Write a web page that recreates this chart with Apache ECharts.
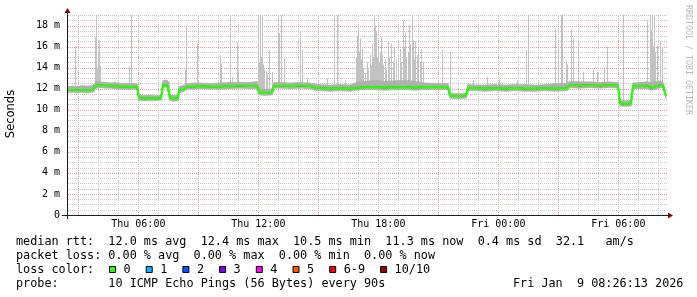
<!DOCTYPE html>
<html><head><meta charset="utf-8">
<script src="https://cdn.jsdelivr.net/npm/echarts@6/dist/echarts.min.js"></script>
<style>html,body{margin:0;padding:0;background:#fff}#c{width:697px;height:297px}</style>
</head><body><div id="c"></div>
<script>
// time in minutes since Thu 00:00
const START_MIN = 146, END_MIN = 1946;
const xTickTimes = [360, 720, 1080, 1440, 1800];
const xTickLabels = ['Thu 06:00', 'Thu 12:00', 'Thu 18:00', 'Fri 00:00', 'Fri 06:00'];
const yMax = 19;

const medianTimes = [146,161,176,191,206,221,227,233,245,260,275,290,305,320,335,347,356,362,380,395,410,428,434,446,452,455,467,479,482,494,509,530,545,575,605,635,665,695,716,722,740,761,767,785,815,845,875,890,905,935,965,995,1016,1040,1070,1100,1130,1160,1190,1220,1250,1289,1295,1310,1325,1343,1349,1370,1400,1430,1460,1490,1520,1550,1580,1610,1646,1655,1685,1715,1745,1775,1799,1805,1820,1838,1844,1865,1886,1898,1910,1925,1934,1943];
const medianValues = [11.85,11.9,11.85,11.9,11.85,11.9,11.95,12.3,12.35,12.3,12.3,12.25,12.2,12.2,12.15,12.2,12.2,11.1,11.05,11.1,11.05,11.1,12.35,12.4,12.3,11.1,11.05,11.1,11.85,11.95,12.2,12.2,12.25,12.2,12.2,12.25,12.3,12.25,12.3,11.65,11.6,11.65,12.3,12.3,12.25,12.3,12.25,12.1,12.05,12.0,12.05,12.0,12.1,12.15,12.15,12.1,12.15,12.15,12.1,12.15,12.15,12.15,11.35,11.3,11.3,11.35,12.05,12.05,12.0,12.05,12.0,12.05,12.0,12.0,12.05,12.0,12.05,12.35,12.3,12.35,12.3,12.35,12.3,10.6,10.55,10.6,12.25,12.25,12.3,12.1,12.2,12.35,12.3,11.3];
const smokeLow = [11.6,11.65,11.6,11.65,11.6,11.65,11.7,12.05,12.1,12.05,12.05,12.0,11.95,11.95,11.9,11.95,11.95,10.85,10.85,10.85,10.85,10.9,12.1,12.15,12.05,10.85,10.8,10.85,11.6,11.7,11.95,11.95,12.0,11.95,11.95,12.0,12.05,12.0,12.0,11.4,11.35,11.4,12.05,12.05,12.0,12.05,12.0,11.85,11.8,11.75,11.8,11.75,11.85,11.9,11.9,11.85,11.9,11.9,11.85,11.9,11.9,11.9,11.1,11.05,11.05,11.1,11.8,11.8,11.75,11.8,11.75,11.8,11.75,11.75,11.8,11.75,11.8,12.1,12.05,12.1,12.05,12.1,12.05,10.35,10.3,10.35,12.0,12.0,12.0,11.85,11.9,12.1,12.05,11.05];
const smokeHigh = [12.2,12.25,12.2,12.3,12.25,12.3,12.4,12.7,12.65,12.6,12.55,12.6,12.5,12.5,12.5,12.5,12.45,11.4,11.35,11.4,11.35,11.4,12.75,12.8,12.6,11.4,11.35,11.4,12.2,12.3,12.5,12.55,12.55,12.5,12.55,12.6,12.6,12.6,12.7,12.0,11.95,12.0,12.6,12.6,12.55,12.6,12.55,12.45,12.4,12.35,12.4,12.35,12.6,12.7,12.8,12.7,12.75,12.8,12.7,12.55,12.5,12.5,11.6,11.55,11.55,11.6,12.4,12.35,12.35,12.4,12.35,12.4,12.4,12.35,12.4,12.5,12.5,12.7,12.65,12.65,12.6,12.65,12.6,10.9,10.85,10.9,12.55,12.6,12.65,12.6,12.7,12.7,12.6,11.6];

// [time, low ms, high ms] of individual outlier pings (smoke spikes)
const spikes = [
[169,12.0,16.0],
[230,12.0,16.9],[233,12.1,19],[236,12.2,14.0],[239,12.2,15.5],[242,12.2,16.6],[245,12.2,14.2],
[333,12.1,14.1],[338,12.1,19],
[437,12.3,12.9],[443,12.3,12.8],
[500,12.1,13.8],[503,12.1,18.0],
[536,12.1,16.3],
[605,12.1,15.2],[609,12.1,14.4],
[635,12.1,19],[641,12.1,13.1],
[657,12.1,16.4],[659,12.1,13.7],
[718,12.1,19],
[722,11.5,14.5],[725,11.5,19],[728,11.5,15.0],[731,11.5,19],[734,11.5,14.3],[737,11.5,13.8],[743,11.5,13.7],[746,11.5,13.5],[752,11.5,15.7],[760,11.5,13.6],
[780,12.1,19],[782,12.1,17.3],[787,12.1,19],[797,12.1,14.9],
[845,12.1,17.4],[850,12.1,15.7],[865,12.1,13.0],
[925,11.9,13.0],[948,11.9,19],[957,11.9,19],[980,11.9,12.8],
[1013,12.0,15.0],[1016,12.0,17.0],[1019,12.0,17.3],[1022,12.0,15.5],[1025,12.0,16.8],[1028,12.0,14.8],[1031,12.0,15.8],[1034,12.0,14.0],[1040,12.0,13.5],[1046,12.0,14.5],[1049,12.0,13.8],[1055,12.0,15.2],[1058,12.0,14.2],[1061,12.0,16.2],[1064,12.0,15.0],[1067,12.0,19],[1070,12.0,18.0],[1073,12.0,17.4],[1076,12.0,15.0],[1079,12.0,15.8],[1082,12.0,14.5],[1085,12.0,15.5],[1088,12.0,16.9],[1091,12.0,15.2],[1094,12.0,14.3],[1100,12.0,14.8],[1103,12.0,13.8],[1109,12.0,16.5],[1112,12.0,15.0],[1118,12.0,16.3],[1124,12.0,14.5],[1127,12.0,16.0],[1133,12.0,14.8],[1139,12.0,15.2],[1145,12.0,15.8],[1148,12.0,14.5],[1153,12.0,18.5],[1157,12.0,16.0],[1160,12.0,17.3],[1163,12.0,15.0],[1169,12.0,15.5],[1172,12.0,18.0],[1175,12.0,16.2],[1180,12.0,19],[1183,12.0,16.6],[1187,12.0,14.8],[1190,12.0,16.5],[1196,12.0,15.2],[1199,12.0,16.0],[1205,12.0,14.5],[1208,12.0,15.8],[1214,12.0,14.5],
[1272,12.0,15.7],[1295,11.3,15.4],
[1365,11.9,12.8],[1405,11.9,13.1],[1443,11.9,12.8],[1495,11.9,12.8],
[1523,11.9,15.7],[1528,11.9,19],
[1610,11.9,17.7],[1618,11.9,16.1],[1628,11.9,19],[1632,11.9,19],[1642,11.9,14.7],[1647,11.9,14.3],
[1658,12.2,17.6],[1663,12.2,16.8],[1678,12.2,16.5],[1693,12.2,13.6],[1723,12.2,13.9],[1735,12.2,13.6],[1757,12.2,13.9],[1765,12.2,16.0],
[1813,10.5,19],
[1885,12.1,18.5],[1895,12.1,19],[1898,12.1,17.5],[1901,12.1,19],[1904,12.1,16.0],[1907,12.1,19],[1910,12.1,15.5],[1915,12.1,16.1],[1925,12.2,16.5],[1930,12.2,15.9]
];

const lossLabels = ['0','1','2','3','4','5','6-9','10/10'];
const lossColors = ['#26ff00','#00b8ff','#0059ff','#7e00ff','#ff00ff','#ff5500','#ff0000','#a10000'];
const statLines = [
  'median rtt:  12.0 ms avg  12.4 ms max  10.5 ms min  11.3 ms now  0.4 ms sd  32.1   am/s',
  'packet loss: 0.00 % avg  0.00 % max  0.00 % min  0.00 % now',
  'loss color:',
  'probe:       10 ICMP Echo Pings (56 Bytes) every 90s'
];
const stampText = 'Fri Jan  9 08:26:13 2026';

const MONO = 'DejaVu Sans Mono';
const MAJOR_COL = '#e49a9a', MINOR_COL = '#c6c6c6';
const chart = echarts.init(document.getElementById('c'), null, {renderer: 'canvas', devicePixelRatio: 1});

const medianData = medianTimes.map((t, i) => [t, medianValues[i]]);
const bandData = medianTimes.map((t, i) => [t, smokeLow[i], smokeHigh[i]]);

// grid line positions (axis helpers, not data): [time, value, isVertical, isMajor]
const gridLines = [];
for (let t = Math.ceil(START_MIN / 60) * 60; t < END_MIN; t += 60) gridLines.push([t, 0.25, 1, t % 180 === 0 ? 1 : 0]);
for (let k = 1; k <= yMax * 2; k++) gridLines.push([START_MIN + 1, k / 2, 0, k % 4 === 0 ? 1 : 0]);

const graphic = [];
const LINE_Y = [241.5, 255.5, 269.5, 283.5];
const FONT = '11.8px "' + MONO + '"';
statLines.forEach((s, i) => graphic.push({type: 'text', x: 16, y: LINE_Y[i], style: {text: s, font: FONT, fill: '#000', verticalAlign: 'middle'}}));
graphic.push({type: 'text', x: 513, y: LINE_Y[3], style: {text: stampText, font: FONT, fill: '#000', verticalAlign: 'middle'}});
let bx = 109;
lossLabels.forEach((lab, i) => {
  graphic.push({type: 'rect', shape: {x: bx + 0.5, y: 266.5, width: 6, height: 6}, style: {fill: lossColors[i], stroke: '#000', lineWidth: 1}});
  graphic.push({type: 'text', x: bx + 14.5, y: LINE_Y[2], style: {text: lab, font: FONT, fill: '#000', verticalAlign: 'middle'}});
  bx += 29.6 + 7.1 * lab.length;
});
graphic.push({type: 'text', x: 11, y: 114, rotation: Math.PI / 2, style: {text: 'Seconds', font: '11.5px "DejaVu Sans"', fill: '#000', align: 'center', verticalAlign: 'middle'}});
graphic.push({type: 'text', x: 688, y: 60, rotation: -Math.PI / 2, style: {text: 'RRDTOOL / TOBI OETIKER', font: '8.3px "' + MONO + '"', fill: '#b8b8b8', align: 'center', verticalAlign: 'middle'}});
graphic.push({type: 'line', shape: {x1: 67.5, y1: 13, x2: 67.5, y2: 219}, style: {stroke: '#1f1f1f', lineWidth: 1}, z: 10});
graphic.push({type: 'line', shape: {x1: 62, y1: 215.5, x2: 668, y2: 215.5}, style: {stroke: '#1f1f1f', lineWidth: 1}, z: 10});
graphic.push({type: 'polygon', shape: {points: [[64.5, 13], [70.5, 13], [67.5, 8]]}, style: {fill: '#8b0000'}, z: 10});
graphic.push({type: 'polygon', shape: {points: [[668, 212.5], [668, 218.5], [673, 215.5]]}, style: {fill: '#8b0000'}, z: 10});

chart.setOption({
  animation: false,
  backgroundColor: '#ffffff',
  grid: {left: 67, top: 15, width: 600, height: 200, containLabel: false},
  xAxis: {
    type: 'value', min: START_MIN, max: END_MIN,
    axisLine: {show: false}, splitLine: {show: false}, axisTick: {show: false},
    axisLabel: {
      customValues: xTickTimes, margin: 4, fontFamily: MONO, fontSize: 10, color: '#000',
      formatter: v => xTickLabels[xTickTimes.indexOf(v)] || ''
    }
  },
  yAxis: {
    type: 'value', min: 0, max: yMax, interval: 2,
    axisLine: {show: false}, axisTick: {show: false}, splitLine: {show: false},
    axisLabel: {
      margin: 7, fontFamily: MONO, fontSize: 10, color: '#000', showMaxLabel: false,
      formatter: v => (v === 0 ? '0' : v + ' m')
    }
  },
  series: [
    {
      type: 'custom', name: 'grid', z: 1, silent: true, clip: false,
      dimensions: ['t', 'v', 'vert', 'major'], encode: {x: 0, y: 1}, data: gridLines,
      renderItem: (params, api) => {
        const vert = api.value(2), major = api.value(3);
        const fill = major ? MAJOR_COL : MINOR_COL;
        const dots = [];
        if (vert) {
          const p0 = api.coord([api.value(0), 0]), p1 = api.coord([api.value(0), yMax]);
          const x = Math.round(p0[0]);
          for (let y = Math.round(p0[1]) - 1; y >= Math.round(p1[1]); y -= 2) dots.push({type: 'rect', shape: {x: x, y: y, width: 1, height: 1}, style: {fill: fill}});
        } else {
          const p0 = api.coord([START_MIN, api.value(1)]), p1 = api.coord([END_MIN, api.value(1)]);
          const y = Math.round(p0[1]);
          for (let x = Math.round(p0[0]) + 1; x <= Math.round(p1[0]); x += 2) dots.push({type: 'rect', shape: {x: x, y: y, width: 1, height: 1}, style: {fill: fill}});
        }
        return {type: 'group', children: dots};
      }
    },
    {
      type: 'custom', name: 'spikes', z: 2, silent: true, clip: true,
      encode: {x: 0, y: [1, 2]}, data: spikes,
      renderItem: (params, api) => {
        const lo = api.coord([api.value(0), api.value(1)]);
        const hi = api.coord([api.value(0), api.value(2)]);
        return {type: 'rect', shape: {x: Math.round(lo[0]), y: hi[1], width: 1, height: lo[1] - hi[1]}, style: {fill: '#c2c2c2'}};
      }
    },
    {
      type: 'custom', name: 'smoke', z: 2, silent: true, clip: true,
      encode: {x: 0, y: [1, 2]}, data: bandData,
      renderItem: (params, api) => {
        const i = params.dataIndex;
        if (i >= bandData.length - 1) return null;
        const a = bandData[i], b = bandData[i + 1];
        const pts = [api.coord([a[0], a[1]]), api.coord([b[0], b[1]]), api.coord([b[0], b[2]]), api.coord([a[0], a[2]])];
        return {type: 'polygon', shape: {points: pts}, style: {fill: '#b0b0b0', stroke: '#b0b0b0', lineWidth: 0.6}};
      }
    },
    {type: 'line', name: 'medianDark', data: medianData, symbol: 'none', z: 3, silent: true, lineStyle: {color: '#000', width: 1.2}},
    {type: 'line', name: 'median', data: medianData, symbol: 'none', z: 4, silent: true, lineStyle: {color: '#26ff00', width: 2.2}}
  ],
  graphic: graphic
});
</script></body></html>
